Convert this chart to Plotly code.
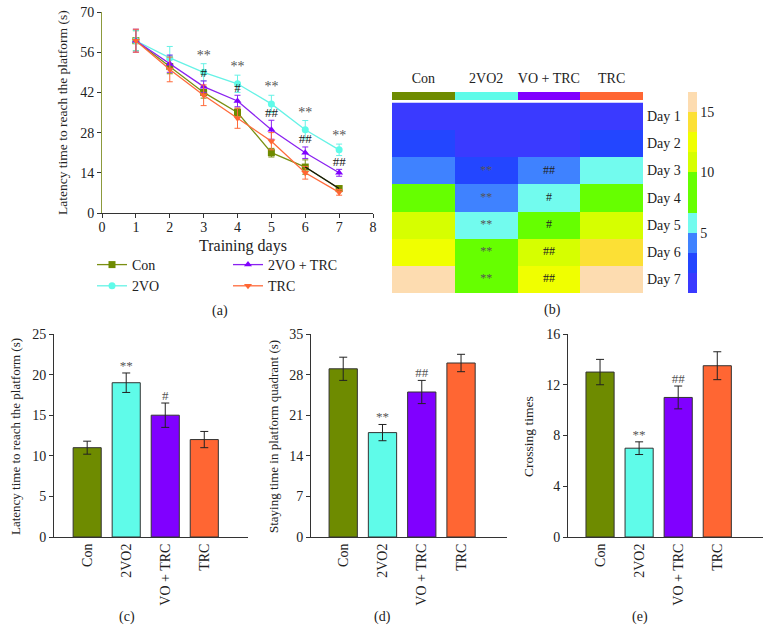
import plotly.graph_objects as go

W, H = 770, 643

def px(x):
    return x / W

def py(y):
    return 1 - y / H

def dx(a, b):
    return [px(a), px(b)]

def dy(top, bottom):
    return [py(bottom), py(top)]

# ---------------- data ----------------
groups = ["Con", "2VO", "2VO + TRC", "TRC"]
group_colors = ["#6E8B00", "#5FFBE9", "#8000FF", "#FF6633"]
line_colors = ["#7A8F12", "#66F2E6", "#8A22F0", "#FF6A3A"]
markers = ["square", "circle", "triangle-up", "triangle-down"]

days = [1, 2, 3, 4, 5, 6, 7]
lat_con = [60, 51, 42, 35, 21, 16, 8.5]
lat_con_err = [3.5, 2.5, 2, 1.5, 1.5, 2.5, 1]
lat_2vo = [60, 54, 49, 45, 38, 29, 22]
lat_2vo_err = [3.5, 4, 3, 3, 3, 3.2, 2]
lat_2vo_trc = [60, 52, 44, 39, 29, 21, 14]
lat_2vo_trc_err = [4, 3, 2, 2, 3.3, 2, 1.2]
lat_trc = [60, 50, 41, 33, 25, 14, 7.2]
lat_trc_err = [4, 4.3, 3.6, 3.5, 3, 2.2, 1]

sig_days = [3, 4, 5, 6, 7]
star_text = ["**", "**", "**", "**", "**"]
hash_text = ["#", "#", "##", "##", "##"]

heat_cols = ["Con", "2VO2", "VO + TRC", "TRC"]
heat_rows = ["Day 1", "Day 2", "Day 3", "Day 4", "Day 5", "Day 6", "Day 7"]
heat_vals = [
    [0.8, 0.8, 0.8, 0.8],
    [2.5, 0.8, 0.8, 2.5],
    [4.2, 2.5, 4.2, 5.8],
    [8.3, 4.2, 5.8, 8.3],
    [10.8, 5.8, 8.3, 10.8],
    [12.5, 8.3, 10.8, 14.2],
    [15.8, 8.3, 12.5, 15.8],
]
heat_star_rows = ["Day 3", "Day 4", "Day 5", "Day 6", "Day 7"]
heat_star_text = ["**", "**", "**", "**", "**"]
heat_hash_rows = ["Day 3", "Day 4", "Day 5", "Day 6", "Day 7"]
heat_hash_text = ["##", "#", "#", "##", "##"]
heat_ticks = [5, 10, 15]
heat_max = 50 / 3

bar_cats = ["Con", "2VO2", "VO + TRC", "TRC"]
c_vals = [11, 19, 15, 12]
c_err = [0.8, 1.2, 1.5, 1.0]
c_sig = ["", "**", "#", ""]
d_vals = [29, 18, 25, 30]
d_err = [2.0, 1.4, 2.0, 1.5]
d_sig = ["", "**", "##", ""]
e_vals = [13, 7, 11, 13.5]
e_err = [1.0, 0.5, 0.9, 1.1]
e_sig = ["", "**", "##", ""]

# ---------------- figure ----------------
FONT = "Liberation Serif"
TXT = "#222222"
fig = go.Figure()

# panel (a)
series = [lat_con, lat_2vo, lat_2vo_trc, lat_trc]
errs = [lat_con_err, lat_2vo_err, lat_2vo_trc_err, lat_trc_err]
legends = ["legend", "legend", "legend2", "legend2"]
for i in range(4):
    fig.add_trace(go.Scatter(
        x=days, y=series[i], name=groups[i], mode="lines+markers",
        line=dict(color=line_colors[i], width=1.3),
        marker=dict(symbol=markers[i], size=7, color=group_colors[i]),
        error_y=dict(type="data", array=errs[i], color=line_colors[i], thickness=1, width=3),
        legend=legends[i], xaxis="x", yaxis="y"))
# dark segment of the Con curve between day 6 and day 7
fig.add_trace(go.Scatter(x=days[5:], y=lat_con[5:], mode="lines",
                         line=dict(color="#111111", width=1.2), showlegend=False,
                         hoverinfo="skip", xaxis="x", yaxis="y"))
fig.add_trace(go.Scatter(
    x=sig_days, y=[lat_2vo[d - 1] + lat_2vo_err[d - 1] + 2.6 for d in sig_days],
    text=star_text, mode="text", textfont=dict(family=FONT, size=14, color="#555"),
    showlegend=False, xaxis="x", yaxis="y"))
fig.add_trace(go.Scatter(
    x=sig_days, y=[lat_2vo_trc[d - 1] + lat_2vo_trc_err[d - 1] + 2.4 for d in sig_days],
    text=hash_text, mode="text", textfont=dict(family=FONT, size=13, color="#222"),
    showlegend=False, xaxis="x", yaxis="y"))

# panel (b) heatmap
bounds = [0, 0.1, 0.2, 0.3, 0.4, 0.6, 0.7, 0.8, 0.9, 1.0]
bin_colors = ["#3A3AFF", "#2346FF", "#3F82FF", "#72FBEE", "#66FF00",
              "#D6FF00", "#F0FF00", "#FCE035", "#FDDCB0"]
cscale = []
for k, c in enumerate(bin_colors):
    cscale.append([bounds[k], c])
    cscale.append([bounds[k + 1], c])
fig.add_trace(go.Heatmap(
    z=heat_vals, x=heat_cols, y=heat_rows, zmin=0, zmax=heat_max,
    colorscale=cscale, xaxis="x2", yaxis="y2",
    colorbar=dict(x=px(688), xanchor="left", xpad=0, ypad=0,
                  y=py(192.5), yanchor="middle",
                  len=201, lenmode="pixels", thickness=9, outlinewidth=0,
                  tickvals=heat_ticks, ticks="", ticklabelposition="outside",
                  tickfont=dict(family=FONT, size=14, color=TXT))))
fig.add_trace(go.Scatter(
    x=["2VO2"] * len(heat_star_rows), y=heat_star_rows, text=heat_star_text,
    mode="text", textfont=dict(family=FONT, size=12, color="#555"),
    showlegend=False, xaxis="x2", yaxis="y2"))
fig.add_trace(go.Scatter(
    x=["VO + TRC"] * len(heat_hash_rows), y=heat_hash_rows, text=heat_hash_text,
    mode="text", textfont=dict(family=FONT, size=12, color="#222"),
    showlegend=False, xaxis="x2", yaxis="y2"))
# group colour strip
strip_scale = []
for k, c in enumerate(group_colors):
    strip_scale.append([k / 4, c])
    strip_scale.append([(k + 1) / 4, c])
fig.add_trace(go.Heatmap(
    z=[[0, 1, 2, 3]], x=heat_cols, zmin=-0.5, zmax=3.5, colorscale=strip_scale,
    showscale=False, xaxis="x3", yaxis="y3", hoverinfo="skip"))

# panels (c), (d), (e)
panels = [(c_vals, c_err, c_sig, "4"), (d_vals, d_err, d_sig, "5"), (e_vals, e_err, e_sig, "6")]
for vals, err, sig, ax in panels:
    fig.add_trace(go.Bar(
        x=bar_cats, y=vals, width=0.72,
        marker=dict(color=group_colors, line=dict(color="#333333", width=1)),
        error_y=dict(type="data", array=err, color="#222222", thickness=1, width=4),
        showlegend=False, xaxis="x" + ax, yaxis="y" + ax))
    fig.add_trace(go.Scatter(
        x=bar_cats, y=[v + e for v, e in zip(vals, err)], text=sig, mode="text",
        textposition="top center",
        textfont=dict(family=FONT, size=13, color="#555"),
        showlegend=False, xaxis="x" + ax, yaxis="y" + ax))

tickfont = dict(family=FONT, size=14, color=TXT)
axcommon = dict(showgrid=False, zeroline=False, showline=True, linecolor="#333",
                linewidth=1, tickfont=tickfont, ticks="outside", ticklen=4,
                tickcolor="#333", automargin=False)

layout = dict(
    width=W, height=H, margin=dict(l=0, r=0, t=0, b=0, autoexpand=False),
    paper_bgcolor="white", plot_bgcolor="white",
    font=dict(family=FONT, color=TXT),
    xaxis=dict(axcommon, domain=dx(102, 373), range=[0, 8], dtick=1, anchor="y",
               ticklabelstandoff=-3),
    yaxis=dict(axcommon, domain=dy(12, 213), range=[0, 70], dtick=14, anchor="x",
               linecolor="#8C9A3C", ticklabeloverflow="allow"),
    xaxis2=dict(domain=dx(392, 643), anchor="y2", showticklabels=False, ticks="",
                showgrid=False, zeroline=False, showline=False, automargin=False),
    yaxis2=dict(domain=dy(102.5, 293), anchor="x2", side="right", autorange="reversed",
                ticks="", showgrid=False, zeroline=False, showline=False,
                tickfont=tickfont, automargin=False, ticklabelstandoff=3),
    xaxis3=dict(domain=dx(392, 643), anchor="y3", side="top", ticks="",
                showgrid=False, zeroline=False, showline=False, tickfont=tickfont,
                automargin=False, ticklabelstandoff=5),
    yaxis3=dict(domain=dy(92, 100.3), anchor="x3", showticklabels=False, ticks="",
                showgrid=False, zeroline=False, showline=False, automargin=False),
    legend=dict(x=px(92), y=py(249), xanchor="left", yanchor="top",
                font=dict(family=FONT, size=14, color=TXT), bgcolor="rgba(0,0,0,0)",
                itemwidth=30, tracegroupgap=0),
    legend2=dict(x=px(228), y=py(249), xanchor="left", yanchor="top",
                 font=dict(family=FONT, size=14, color=TXT), bgcolor="rgba(0,0,0,0)",
                 itemwidth=30, tracegroupgap=0),
)
bar_specs = [("4", 54, 248, [-0.85, 4.12], [0, 25], 5),
             ("5", 311, 507, [-0.82, 4.17], [0, 35], 7),
             ("6", 568, 763, [-0.82, 4.17], [0, 16], 4)]
for ax, x0, x1, xr, yr, dt in bar_specs:
    layout["xaxis" + ax] = dict(axcommon, domain=dx(x0, x1), range=xr, anchor="y" + ax,
                                ticks="", tickangle=-90, type="category")
    layout["yaxis" + ax] = dict(axcommon, domain=dy(334, 537), range=yr, dtick=dt,
                                anchor="x" + ax, ticklabeloverflow="allow")
fig.update_layout(**layout)

def label(text, x, y, size=13, angle=0):
    fig.add_annotation(text=text, x=px(x), y=py(y), xref="paper", yref="paper",
                       showarrow=False, textangle=angle,
                       font=dict(family=FONT, size=size, color=TXT),
                       xanchor="center", yanchor="middle")

label("Latency time to reach the platform (s)", 63, 113, 13.5, -90)
label("Training days", 243, 246, 16)
label("(a)", 220, 311, 14)
label("(b)", 552, 310, 14)
label("Latency time to reach the platform (s)", 15, 437, 13, -90)
label("Staying time in platform quadrant (s)", 273, 437, 13, -90)
label("Crossing times", 528, 437, 13.5, -90)
label("(c)", 127, 617, 14)
label("(d)", 382, 617, 14)
label("(e)", 640, 617, 14)

# remove the browser's default page margin so the 770x643 figure fills the window
fig.write_html("out.html",
               config={"displayModeBar": False},
               post_script="document.body.style.margin='0';"
                           "document.body.style.overflow='hidden';")
